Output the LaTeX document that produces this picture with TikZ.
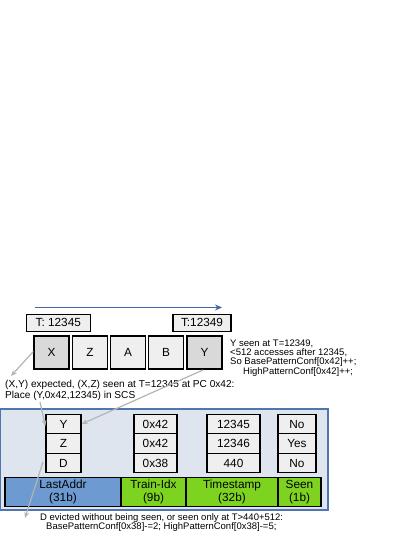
\documentclass[tikz,border=0pt]{standalone}
\usepackage{fontspec}
\setmainfont{Liberation Sans}
\usetikzlibrary{arrows.meta}
\definecolor{cellL}{HTML}{EFEFEF}
\definecolor{cellD}{HTML}{D9D9D9}
\definecolor{panel}{HTML}{DFE5EE}
\definecolor{panelB}{HTML}{4F76AE}
\definecolor{addrB}{HTML}{6D9BD1}
\definecolor{grn}{HTML}{7ED321}
\definecolor{arrG}{HTML}{B4B4B4}
\definecolor{arrB}{HTML}{3F67A8}
\begin{document}
\begin{tikzpicture}[x=1pt,y=-1pt,
  cell/.style={draw=black,line width=1.3pt,fill=cellL,inner sep=0pt,font=\fontsize{11.8}{13}\selectfont},
  bar/.style={draw=black,line width=1.3pt,inner sep=0pt,align=center,font=\fontsize{11.8}{13}\selectfont},
  note/.style={inner sep=0pt,align=left,font=\fontsize{9.5}{9.3}\selectfont,anchor=north west},
  garr/.style={draw=arrG,line width=1.2pt,-{Stealth[length=6pt,width=5pt]}}]
\useasboundingbox (0,0) rectangle (415,537);
% timeline
\draw[arrB,line width=1.2pt,-{Stealth[length=7pt,width=6pt]}] (35,307.5) coordinate (ta) -- (222,307.5) coordinate (tb);
\node[cell,minimum width=64pt,minimum height=17pt] (t1) at (58.3,322.7) {T: 12345};
\node[cell,minimum width=58pt,minimum height=17pt] (t2) at (202,322.7) {T:12349};
% access cells
\node[cell,fill=cellD,minimum width=35pt,minimum height=33pt] (cx) at (51.5,352.5) {X};
\node[cell,minimum width=35pt,minimum height=33pt] (cz) at (90,352.5) {Z};
\node[cell,minimum width=35pt,minimum height=33pt] (ca) at (128,352.5) {A};
\node[cell,minimum width=35pt,minimum height=33pt] (cb) at (166,352.5) {B};
\node[cell,fill=cellD,minimum width=35pt,minimum height=33pt] (cy) at (204.5,352.5) {Y};
\node[note] (ny) at (230,339.5) {Y seen at T=12349,\\<512 accesses after 12345,\\So BasePatternConf[0x42]++;\\\hspace*{13pt}HighPatternConf[0x42]++;};
% note
\node[note,font=\fontsize{10.1}{11}\selectfont] (nx) at (5,380) {(X,Y) expected, (X,Z) seen at T=12345 at PC 0x42:\\Place (Y,0x42,12345) in SCS};
% panel
\node[draw=panelB,fill=panel,line width=1.1pt,minimum width=328pt,minimum height=101pt,inner sep=0pt] (panel) at (164,459.5) {};
% columns
\foreach \n/\t/\yy in {y/Y/424, z/Z/443.5, d/D/463}{
  \node[cell,minimum width=35pt,minimum height=19.5pt] (a\n) at (63.5,\yy) {\t};}
\foreach \n/\t/\yy in {1/0x42/424, 2/0x42/443.5, 3/0x38/463}{
  \node[cell,minimum width=43pt,minimum height=19.5pt] (p\n) at (155.5,\yy) {\t};}
\foreach \n/\t/\yy in {1/12345/424, 2/12346/443.5, 3/440/463}{
  \node[cell,minimum width=53pt,minimum height=19.5pt] (s\n) at (233.5,\yy) {\t};}
\foreach \n/\t/\yy in {1/No/424, 2/Yes/443.5, 3/No/463}{
  \node[cell,minimum width=38pt,minimum height=19.5pt] (e\n) at (297,\yy) {\t};}
% bottom bar
\node[bar,fill=addrB,minimum width=116pt,minimum height=29pt] (b1) at (63,492.2) {LastAddr\\(31b)};
\node[bar,fill=grn,minimum width=65pt,minimum height=29pt] (b2) at (153.5,492.2) {Train-Idx\\(9b)};
\node[bar,fill=grn,minimum width=92pt,minimum height=29pt] (b3) at (232,492.2) {Timestamp\\(32b)};
\node[bar,fill=grn,minimum width=43pt,minimum height=29pt] (b4) at (299.5,492.2) {Seen\\(1b)};
% bottom note
\node[note,align=left] (nd) at (40,513.5) {D evicted without being seen, or seen only at T>440+512:\\\hspace*{6pt}BasePatternConf[0x38]-=2; HighPatternConf[0x38]-=5;};
% gray arrows
\coordinate (xe) at (11,376);
\coordinate (de) at (25,518);
\draw[garr] ([yshift=1pt]cx.west) -- (xe);
\draw[garr] (203,370) -- (ay.east);
\draw[garr] (40,402) -- ([yshift=-2pt]ay.west);
\draw[garr] (43,462) -- (de);
\end{tikzpicture}
\end{document}
